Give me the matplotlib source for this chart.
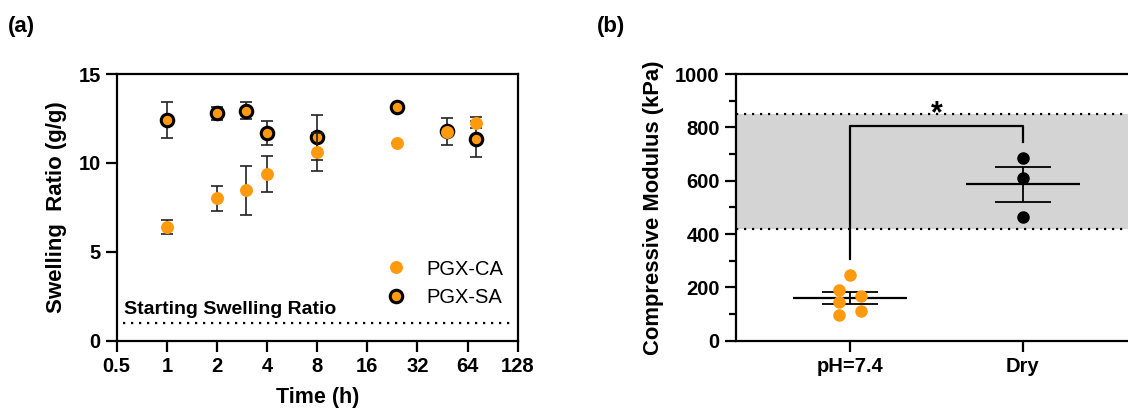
import matplotlib

matplotlib.use("Agg")
import matplotlib.pyplot as plt
import numpy as np

plt.rcParams["font.family"] = ["Liberation Sans", "DejaVu Sans"]

# (a) swelling ratio over time
time_h = [1, 2, 3, 4, 8, 24, 48, 72]
ca_mean = [6.40, 8.00, 8.45, 9.38, 10.60, 11.12, 11.75, 12.27]
ca_err = [0.41, 0.72, 1.39, 1.02, 1.06, 0.0, 0.0, 0.30]
sa_mean = [12.42, 12.78, 12.93, 11.70, 11.43, 13.15, 11.77, 11.34]
sa_err = [1.02, 0.39, 0.48, 0.67, 1.25, 0.0, 0.77, 1.03]
start_ratio = 1.0
x_ticks = [0.5, 1, 2, 4, 8, 16, 32, 64, 128]
x_tick_labels = ["0.5", "1", "2", "4", "8", "16", "32", "64", "128"]

# (b) compressive modulus
groups = ["pH=7.4", "Dry"]
ph_vals = [245, 190, 169, 146, 111, 96]
ph_side = [0, -1, 1, -1, 1, -1]
dry_vals = [686, 611, 463]
cartilage_range = (420, 850)
bracket_y = [305, 805, 805, 746]

ORANGE = "#FF9A0F"
LW = 1.6
DOTS = (0, (1, 2.6))

W, H = 1128, 413
fig = plt.figure(figsize=(W / 100, H / 100), dpi=100)
ax1 = fig.add_axes([116.7 / W, 1 - 340.7 / H, 401 / W, 266.7 / H])
ax2 = fig.add_axes([735.7 / W, 1 - 340.7 / H, 414.3 / W, 266.7 / H])

for ax in (ax1, ax2):
    for s in ax.spines.values():
        s.set_linewidth(LW)
    ax.tick_params(width=LW, length=8, labelsize=14.5, direction="out")

# ---- panel (a)
ax1.set_xscale("log", base=2)
ax1.hlines(start_ratio, 0.545, 122, colors="black", lw=1.6, linestyles=DOTS)
ax1.text(0.553, 1.3, "Starting Swelling Ratio", fontsize=14,
         fontweight="bold", va="bottom", ha="left")

ax1.errorbar(time_h, sa_mean, yerr=sa_err, fmt="none", ecolor="#222222",
             elinewidth=1.2, capsize=4.3, capthick=1.2, zorder=3)
ax1.plot(time_h, sa_mean, "o", color=ORANGE, mec="black", mew=2.2,
         ms=9, zorder=4, label="PGX-SA")
ax1.errorbar(time_h, ca_mean, yerr=ca_err, fmt="none", ecolor="#222222",
             elinewidth=1.2, capsize=4.3, capthick=1.2, zorder=5)
ax1.plot(time_h, ca_mean, "o", color=ORANGE, mec=ORANGE, ms=8.3,
         zorder=6, label="PGX-CA")

ax1.set_xlim(0.5, 128)
ax1.set_ylim(0, 15)
ax1.set_xticks(x_ticks)
ax1.set_xticklabels(x_tick_labels)
ax1.minorticks_off()
ax1.set_yticks([0, 5, 10, 15])
for lab in ax1.get_xticklabels() + ax1.get_yticklabels():
    lab.set_fontweight("bold")
ax1.set_xlabel("Time (h)", fontsize=15.5, fontweight="bold", labelpad=8)
ax1.set_ylabel("Swelling  Ratio (g/g)", fontsize=16, fontweight="bold",
               labelpad=8)

h, l = ax1.get_legend_handles_labels()
ax1.legend(h[::-1], l[::-1], loc="lower right", frameon=False, fontsize=14.5,
           handletextpad=0.55, labelspacing=0.45, borderaxespad=0.3,
           bbox_to_anchor=(1.0, 0.075))

# ---- panel (b)
ax2.axhspan(*cartilage_range, color="#D4D4D4", lw=0, zorder=0)
for yv in cartilage_range:
    ax2.axhline(yv, color="black", lw=1.6, linestyle=DOTS, zorder=1)

for i, vals in enumerate([ph_vals, dry_vals]):
    vals = np.asarray(vals, float)
    m = vals.mean()
    sem = vals.std(ddof=1) / np.sqrt(len(vals))
    ax2.hlines(m, i - 0.33, i + 0.33, colors="black", lw=LW, zorder=2)
    ax2.hlines([m - sem, m + sem], i - 0.163, i + 0.163, colors="black",
               lw=1.3, zorder=2)
    ax2.vlines(i, m - sem, m + sem, colors="black", lw=1.3, zorder=2)

ph_x = [0.062 * s for s in ph_side]
ax2.plot(ph_x, ph_vals, "o", color=ORANGE, ms=8, zorder=3)
ax2.plot([1] * len(dry_vals), dry_vals, "o", color="black", ms=8, zorder=3)

ax2.plot([0, 0, 1, 1], bracket_y, color="black", lw=LW, zorder=2)
ax2.text(0.5, 848, "*", ha="center", va="center", fontsize=22,
         fontweight="bold")

ax2.set_xlim(-0.662, 1.737)
ax2.set_ylim(0, 1000)
ax2.set_xticks([0, 1])
ax2.set_xticklabels(groups)
ax2.set_yticks(np.arange(0, 1001, 200))
ax2.set_yticks(np.arange(100, 1000, 200), minor=True)
ax2.tick_params(axis="y", which="minor", width=LW, length=5)
for lab in ax2.get_xticklabels() + ax2.get_yticklabels():
    lab.set_fontweight("bold")
ax2.set_ylabel("Compressive Modulus (kPa)", fontsize=15.8, fontweight="bold",
               labelpad=8)

fig.text(0.007, 0.922, "(a)", fontsize=16, fontweight="bold")
fig.text(0.529, 0.922, "(b)", fontsize=16, fontweight="bold")

fig.savefig("out.png", dpi=100)
